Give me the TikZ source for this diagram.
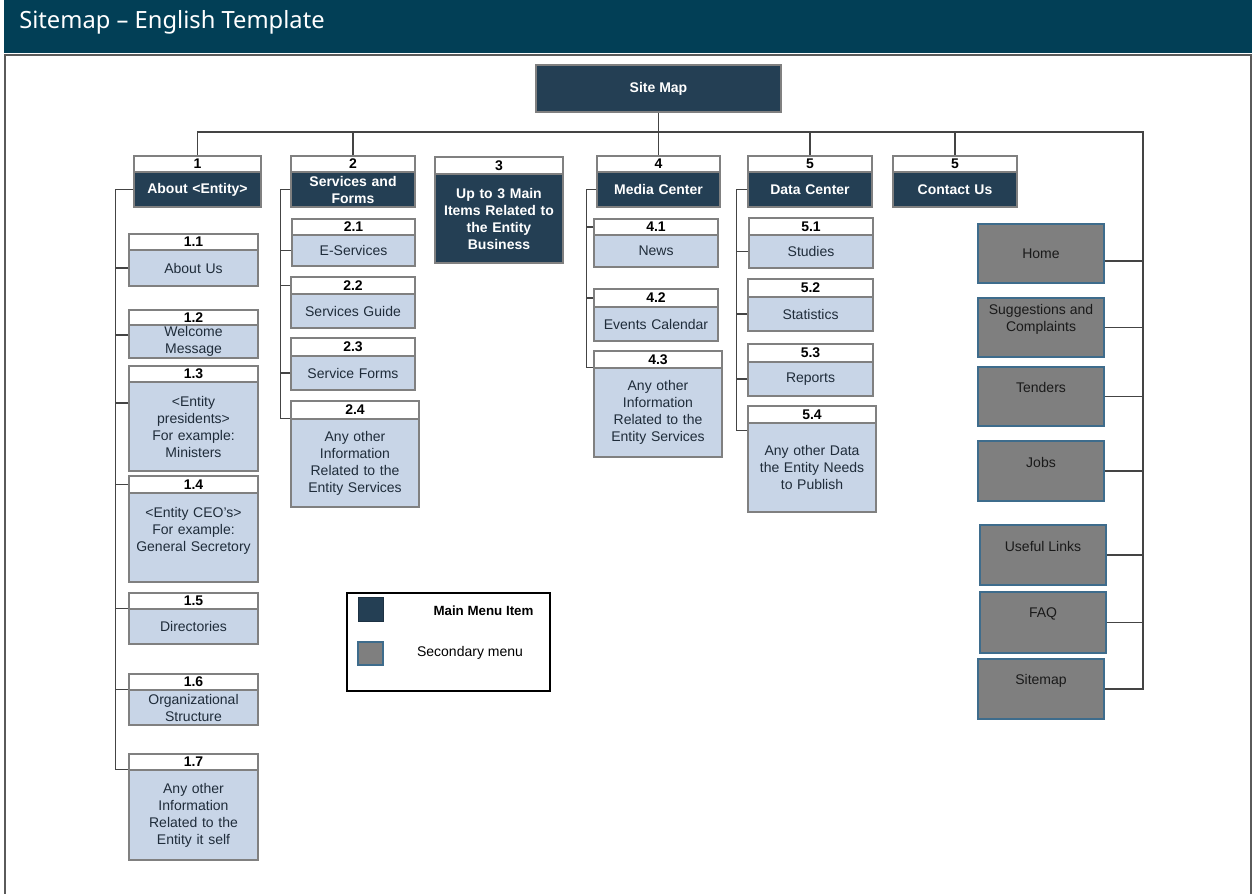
\documentclass[tikz,border=0pt]{standalone}
\usepackage{fontspec}
\setmainfont{Liberation Sans}
\newfontfamily\titlefont{Noto Sans}
\definecolor{hdrcol}{HTML}{023F56}
\definecolor{navy}{HTML}{243F54}
\definecolor{lblue}{HTML}{C8D5E7}
\definecolor{bgray}{HTML}{808080}
\definecolor{ggray}{HTML}{7F7F7F}
\definecolor{gborder}{HTML}{3E6C8C}
\definecolor{cgray}{HTML}{444444}
\definecolor{txtdark}{HTML}{1F2C3A}
\definecolor{gtxtcol}{HTML}{1A1A1A}
\definecolor{framegray}{HTML}{5A5A5A}
\newcommand\fsz{\fontsize{10.5}{12.75}\selectfont}
\tikzset{
  numstrip/.style={draw=bgray, fill=white, line width=1pt, inner sep=0pt, font=\bfseries\fsz, text=black},
  subbody/.style={draw=bgray, fill=lblue, line width=1pt, inner sep=1pt, align=center, font=\fsz, text=txtdark},
  mainbody/.style={draw=bgray, fill=navy, line width=1pt, inner sep=1pt, align=center, font=\bfseries\fsz, text=white},
  mainbox/.style={draw=bgray, fill=navy, line width=1pt, inner sep=1pt, align=center, font=\bfseries\fsz, text=white},
  gbox/.style={draw=gborder, fill=ggray, line width=1.1pt, inner sep=0pt},
  gtxt/.style={font=\fsz, text=gtxtcol, align=center, inner sep=0pt},
  legendframe/.style={draw=black, line width=1.5pt, fill=white, inner sep=0pt},
  navysq/.style={draw=navy!80!black, fill=navy, line width=0.6pt, inner sep=0pt},
  graysq/.style={draw=gborder, fill=ggray, line width=0.8pt, inner sep=0pt},
  hdrbox/.style={fill=hdrcol, inner sep=0pt},
  conn/.style={draw=cgray, line width=0.95pt},
}
\newcommand\twobox[9]{%
  \pgfmathsetlengthmacro\tbW{(#3-#2)*0.75}%
  \pgfmathsetlengthmacro\tbS{(#5-#4)*0.75}%
  \pgfmathsetlengthmacro\tbH{(#6-#5)*0.75}%
  \pgfmathsetlengthmacro\tbT{(#3-#2-8)*0.75}%
  \node[numstrip, minimum width=\tbW, minimum height=\tbS] (#1n) at ({(#2+#3)/2},{(#4+#5)/2}) {#7};
  \node[#9, minimum width=\tbW, minimum height=\tbH, text width=\tbT] (#1) at ({(#2+#3)/2},{(#5+#6)/2}) {#8};%
}
\newcommand\rbox[7]{%
  \pgfmathsetlengthmacro\tbW{(#4-#3)*0.75}%
  \pgfmathsetlengthmacro\tbH{(#6-#5)*0.75}%
  \node[#1, minimum width=\tbW, minimum height=\tbH] (#2) at ({(#3+#4)/2},{(#5+#6)/2}) {#7};%
}
\begin{document}
\begin{tikzpicture}[x=0.75pt,y=-0.75pt]
\useasboundingbox (0,0) rectangle (1252,894);
% header and frame
\rbox{hdrbox}{hdr}{4}{1252}{0}{53}{}
\node[anchor=west, text=white, font=\titlefont\fontsize{17.8}{22}\selectfont, inner sep=0pt] (title) at (19,22) {Sitemap – English Template};
\draw[framegray, line width=1.5pt] (4,54.5) -- (1252,54.5);
\draw[framegray, line width=1.5pt] (5,54) -- (5,894);
\draw[framegray, line width=1.5pt] (1251,54) -- (1251,894);

% root
\rbox{mainbox}{sitemap}{536}{781}{65}{112}{Site Map}

% main menu
\twobox{m1}{134}{261}{156}{172}{207}{1}{About <Entity>}{mainbody}
\twobox{m2}{291}{415}{156}{172}{207}{2}{Services and\\Forms}{mainbody}
\twobox{m3}{435}{563}{157}{174}{263}{3}{Up to 3 Main\\Items Related to\\the Entity\\Business}{mainbody}
\twobox{m4}{597}{720}{156}{172}{207}{4}{Media Center}{mainbody}
\twobox{m5}{748}{872}{156}{172}{207}{5}{Data Center}{mainbody}
\twobox{m6}{893}{1017}{156}{172}{207}{5}{Contact Us}{mainbody}

% column 1
\twobox{s11}{129}{258}{234}{250}{286}{1.1}{About Us}{subbody}
\twobox{s12}{129}{258}{310}{326}{357}{1.2}{Welcome\\Message}{subbody}
\twobox{s13}{129}{258}{366}{382}{471}{1.3}{<Entity\\presidents>\\For example:\\Ministers}{subbody}
\twobox{s14}{129}{258}{476}{493}{582}{1.4}{<Entity CEO's>\\For example:\\General Secretory\\\rule{0pt}{10pt}}{subbody}
\twobox{s15}{129}{258}{593}{609}{644}{1.5}{Directories}{subbody}
\twobox{s16}{129}{258}{674}{690}{725}{1.6}{Organizational\\Structure}{subbody}
\twobox{s17}{129}{258}{754}{770}{860}{1.7}{Any other\\Information\\Related to the\\Entity it self}{subbody}

% column 2
\twobox{s21}{292}{415}{219}{235}{266}{2.1}{E-Services}{subbody}
\twobox{s22}{291}{415}{277}{294}{328}{2.2}{Services Guide}{subbody}
\twobox{s23}{291}{415}{338}{356}{390}{2.3}{Service Forms}{subbody}
\twobox{s24}{291}{419}{401}{419}{507}{2.4}{Any other\\Information\\Related to the\\Entity Services}{subbody}

% column 4
\twobox{s41}{594}{718}{219}{235}{267}{4.1}{News}{subbody}
\twobox{s42}{594}{718}{289}{307}{341}{4.2}{Events Calendar}{subbody}
\twobox{s43}{594}{722}{351}{368}{457}{4.3}{Any other\\Information\\Related to the\\Entity Services}{subbody}

% column 5
\twobox{s51}{749}{873}{218}{235}{268}{5.1}{Studies}{subbody}
\twobox{s52}{748}{873}{279}{297}{331}{5.2}{Statistics}{subbody}
\twobox{s53}{748}{873}{344}{362}{396}{5.3}{Reports}{subbody}
\twobox{s54}{748}{876}{406}{423}{512}{5.4}{Any other Data\\the Entity Needs\\to Publish}{subbody}

% secondary menu
\rbox{gbox, label={[gtxt]center:Home}}{ghome}{978}{1104}{224}{283}{}
\rbox{gbox, label={[gtxt, yshift=6.4pt]center:{Suggestions and\\Complaints}}}{gsug}{978}{1104}{298}{357}{}
\rbox{gbox, label={[gtxt, yshift=6.4pt]center:Tenders}}{gtend}{978}{1104}{367}{426}{}
\rbox{gbox, label={[gtxt, yshift=6.4pt]center:Jobs}}{gjobs}{978}{1104}{441}{501}{}
\rbox{gbox, label={[gtxt, yshift=6.4pt]center:Useful Links}}{glinks}{980}{1106}{525}{585}{}
\rbox{gbox, label={[gtxt, yshift=6.4pt]center:FAQ}}{gfaq}{980}{1106}{592}{653}{}
\rbox{gbox, label={[gtxt, yshift=6.4pt]center:Sitemap}}{gsite}{978}{1104}{659}{719}{}

% legend
\rbox{legendframe}{legend}{347}{550}{593}{691}{}
\rbox{navysq}{lgmain}{358}{383}{597}{621}{}
\rbox{graysq}{lgsec}{358}{383}{642}{665}{}
\node[font=\bfseries\fontsize{10}{12}\selectfont, inner sep=0pt] (lgmaintxt) at (483.5,611) {Main Menu Item};
\node[font=\fsz, inner sep=0pt] (lgsectxt) at (470,653) {Secondary menu};

% connectors: top level
\coordinate (busR) at (1143,132);
\draw[conn] (sitemap.south) -- (m4n.north);
\draw[conn] (m1n.north) |- (busR) -- (busR |- gsite.east) -- (gsite.east);
\draw[conn] (m2n.north) -- (m2n.north |- busR);
\draw[conn] (m5n.north) -- (m5n.north |- busR);
\draw[conn] (m6n.north) -- (m6n.north |- busR);
\draw[conn] ([yshift=-5.6pt]ghome.east) -- ([yshift=-5.6pt]ghome.east -| busR);
\draw[conn] (gsug.east) -- (gsug.east -| busR);
\draw[conn] (gtend.east) -- (gtend.east -| busR);
\draw[conn] (gjobs.east) -- (gjobs.east -| busR);
\draw[conn] (glinks.east) -- (glinks.east -| busR);
\draw[conn] (gfaq.east) -- (gfaq.east -| busR);

% column 1
\coordinate (sp1) at ([xshift=-13.5pt]m1.west);
\draw[conn] (m1.west) -- (sp1) |- (s17.north west);
\draw[conn] (s11.west) -- (s11.west -| sp1);
\draw[conn] ([yshift=4.9pt]s12.west) -- ([yshift=4.9pt]s12.west -| sp1);
\draw[conn] ([yshift=17.6pt]s13.west) -- ([yshift=17.6pt]s13.west -| sp1);
\draw[conn] (s14n.west) -- (s14n.west -| sp1);
\draw[conn] (s15.north west) -- (s15.north west -| sp1);
\draw[conn] (s16.north west) -- (s16.north west -| sp1);

% column 2
\coordinate (sp2) at ([xshift=-7.5pt]m2.west);
\draw[conn] (m2.west) -- (sp2) |- (s24.north west);
\draw[conn] (s21.west) -- (s21.west -| sp2);
\draw[conn] (s22n.west) -- (s22n.west -| sp2);
\draw[conn] (s23.west) -- (s23.west -| sp2);

% column 4
\coordinate (sp4) at ([xshift=-7.5pt]m4.west);
\draw[conn] (m4.west) -- (sp4) |- (s43.north west);
\draw[conn] (s41n.west) -- (s41n.west -| sp4);
\draw[conn] (s42n.west) -- (s42n.west -| sp4);

% column 5
\coordinate (sp5) at ([xshift=-8.25pt]m5.west);
\draw[conn] (m5.west) -- (sp5) |- ([yshift=-6pt]s54.north west);
\draw[conn] (s51.west) -- (s51.west -| sp5);
\draw[conn] (s52.west) -- (s52.west -| sp5);
\draw[conn] (s53.west) -- (s53.west -| sp5);
\end{tikzpicture}
\end{document}
